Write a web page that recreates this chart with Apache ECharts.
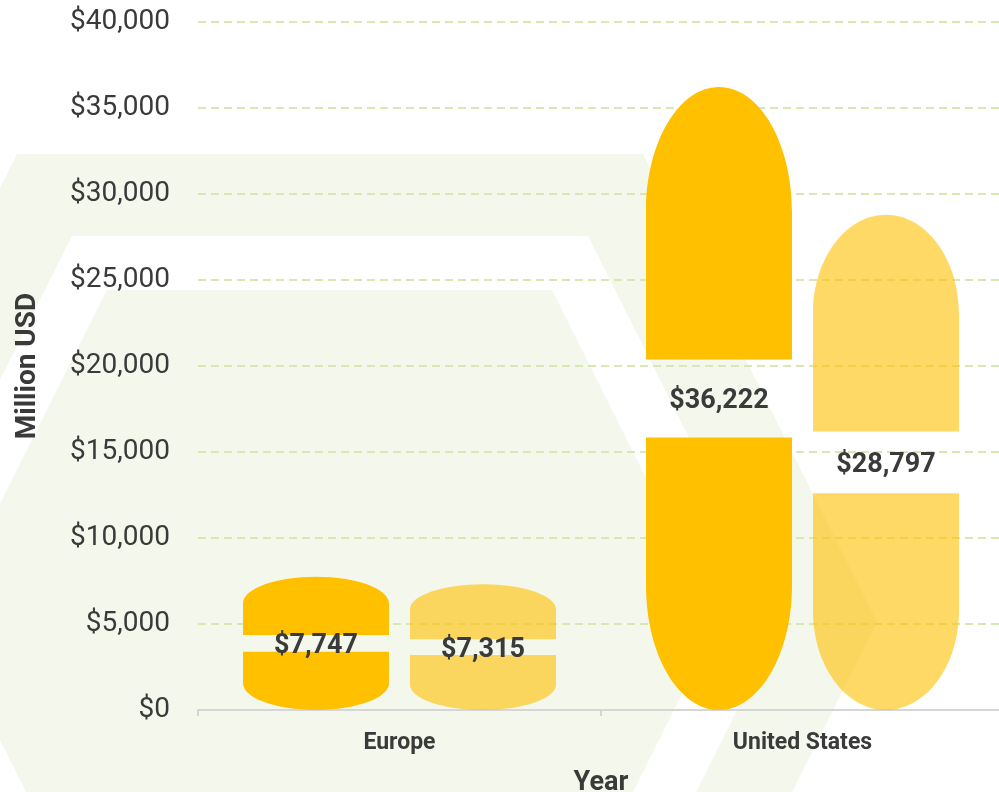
<!DOCTYPE html>
<html>
<head>
<meta charset="utf-8">
<script src="https://cdn.jsdelivr.net/npm/echarts@6/dist/echarts.min.js"></script>
<style>
html,body{margin:0;padding:0;background:#ffffff;}
#chart{width:999px;height:792px;}
</style>
</head>
<body>
<div id="chart"></div>
<script>
// ---- data ----
const categories = ['Europe', 'United States'];
const seriesAValues = [7747, 36222];
const seriesBValues = [7315, 28797];
const yTickValues = [0, 5000, 10000, 15000, 20000, 25000, 30000, 35000, 40000];

// ---- style ----
const GOLD = '#FFC000';
const LIGHT = 'rgba(255,192,0,0.6)';
const TEXT = '#3a3a3a';
const BG_GREEN = '#F4F8EC';
const BAR_RATIO = 146 / 403;
const GAP_RATIO = 21 / 403;

function money(v) { return '$' + Number(v).toLocaleString('en-US'); }

function makeRender(side, fill) {
  return function (params, api) {
    const cat = api.value(0), val = api.value(1);
    const band = api.size([1, 0])[0];
    const bw = band * BAR_RATIO;
    const gap = band * GAP_RATIO;
    const base = api.coord([cat, 0]);
    const top = api.coord([cat, val]);
    const cx = base[0] + side * (bw + gap) / 2;
    const x0 = cx - bw / 2, x1 = cx + bw / 2;
    const yb = base[1], yt = top[1];
    const h = yb - yt;
    const cap = h * 0.2;
    const gh = h * 0.125;
    const ym = (yb + yt) / 2;
    const g1 = ym - gh / 2, g2 = ym + gh / 2;
    const k = 0.5523;
    const rx = bw / 2;
    const d =
      'M' + x0 + ',' + (yt + cap) +
      ' C' + x0 + ',' + (yt + cap - cap * k) + ' ' + (cx - rx * k) + ',' + yt + ' ' + cx + ',' + yt +
      ' C' + (cx + rx * k) + ',' + yt + ' ' + x1 + ',' + (yt + cap - cap * k) + ' ' + x1 + ',' + (yt + cap) +
      ' L' + x1 + ',' + g1 + ' L' + x0 + ',' + g1 + ' Z' +
      ' M' + x0 + ',' + g2 + ' L' + x1 + ',' + g2 + ' L' + x1 + ',' + (yb - cap) +
      ' C' + x1 + ',' + (yb - cap + cap * k) + ' ' + (cx + rx * k) + ',' + yb + ' ' + cx + ',' + yb +
      ' C' + (cx - rx * k) + ',' + yb + ' ' + x0 + ',' + (yb - cap + cap * k) + ' ' + x0 + ',' + (yb - cap) + ' Z';
    return {
      type: 'group',
      children: [
        { type: 'path', shape: { pathData: d }, style: { fill: fill } },
        {
          type: 'text',
          style: {
            text: money(val), x: cx, y: ym + 3,
            align: 'center', verticalAlign: 'middle',
            fill: TEXT, font: 'bold 27px Roboto'
          }
        }
      ]
    };
  };
}

function hexPoly(pts, fill) {
  return { type: 'polygon', z: -10, silent: true, shape: { points: pts }, style: { fill: fill } };
}

const chart = echarts.init(document.getElementById('chart'), null, { renderer: 'canvas' });
chart.setOption({
  backgroundColor: '#ffffff',
  animation: false,
  graphic: {
    elements: [
      hexPoly([[17,154],[643,154],[877,622],[643,1090],[17,1090],[-217,622]], BG_GREEN),
      hexPoly([[72,236],[588,236],[781,622],[588,1008],[72,1008],[-121,622]], '#ffffff'),
      hexPoly([[107,290],[552,290],[718,622],[552,954],[107,954],[-59,622]], BG_GREEN)
    ]
  },
  grid: { left: 198, right: -5, top: 22, bottom: 82, containLabel: false, outerBoundsMode: 'none' },
  xAxis: {
    type: 'category',
    data: categories,
    name: 'Year',
    nameLocation: 'middle',
    nameGap: 60,
    nameTextStyle: { fontFamily: 'Roboto', fontWeight: 'bold', fontSize: 27, color: TEXT },
    axisLine: { lineStyle: { color: '#d6d6d6', width: 2 } },
    axisTick: { show: true, length: 6, lineStyle: { color: '#d6d6d6', width: 2 } },
    axisLabel: { fontFamily: 'Roboto', fontWeight: 'bold', fontSize: 23, color: TEXT, margin: 22 }
  },
  yAxis: {
    type: 'value',
    min: yTickValues[0],
    max: yTickValues[yTickValues.length - 1],
    interval: yTickValues[1] - yTickValues[0],
    name: 'Million USD',
    nameLocation: 'middle',
    nameGap: 156,
    nameTextStyle: { fontFamily: 'Roboto', fontWeight: 'bold', fontSize: 28, color: TEXT },
    axisLine: { show: false },
    axisTick: { show: false },
    axisLabel: { fontFamily: 'Roboto', fontSize: 28, color: TEXT, margin: 28, padding: [4, 0, 0, 0], formatter: money },
    splitLine: { lineStyle: { color: '#D8E8B2', width: 2, type: [8, 5] } }
  },
  series: [
    {
      name: 'Series A', type: 'custom',
      renderItem: makeRender(-1, GOLD),
      encode: { x: 0, y: 1 },
      data: categories.map((c, i) => [i, seriesAValues[i]])
    },
    {
      name: 'Series B', type: 'custom',
      renderItem: makeRender(1, LIGHT),
      encode: { x: 0, y: 1 },
      data: categories.map((c, i) => [i, seriesBValues[i]])
    }
  ]
});
</script>
</body>
</html>
